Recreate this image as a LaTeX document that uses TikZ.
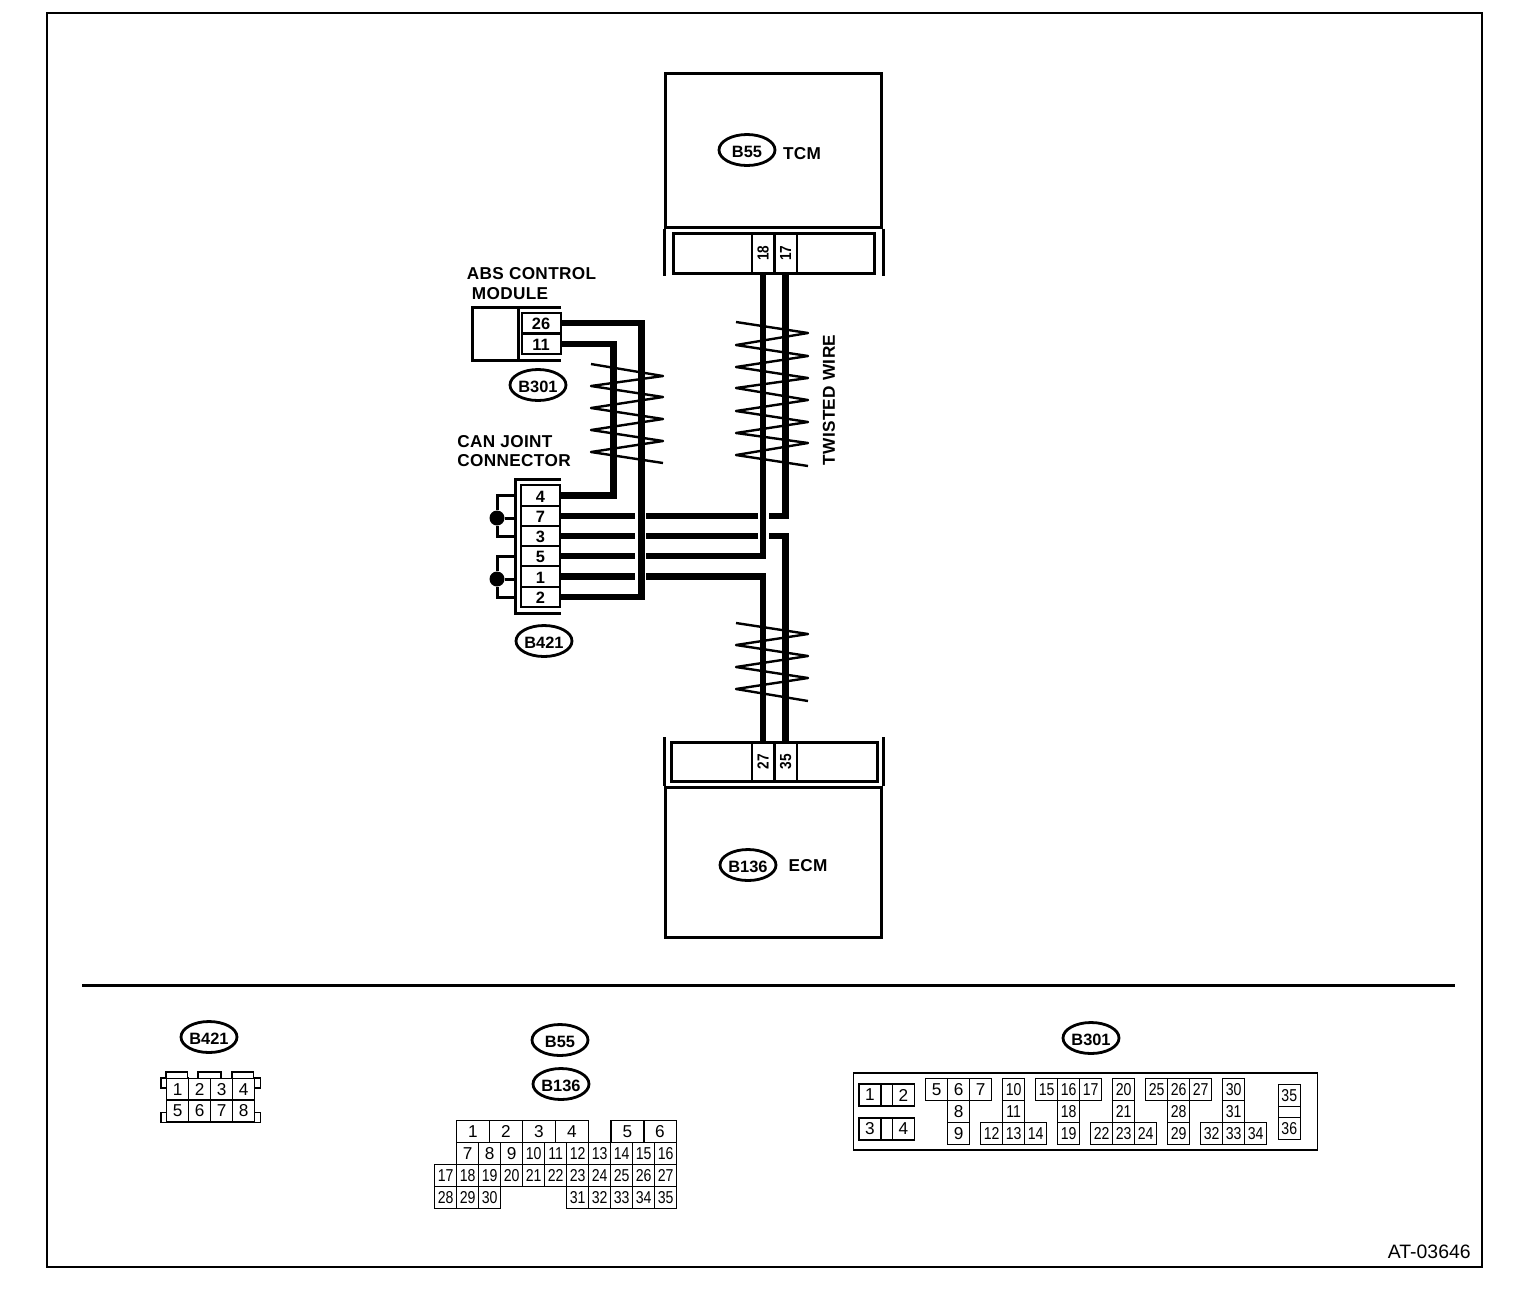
\documentclass[tikz,border=0pt]{standalone}
\usepackage{fontspec}
\setmainfont{Liberation Sans}
\newfontfamily\labelfont[LetterSpace=2.0]{Liberation Sans Bold}
\newfontfamily\pinfont[FakeStretch=0.82]{Liberation Sans}
\newfontfamily\slimfont[FakeStretch=0.85]{Liberation Sans Bold}
\usetikzlibrary{shapes.geometric}
\tikzset{
  wire/.style={line width=3.4pt},
  twist/.style={line width=1.2pt,line join=round},
  heavy/.style={line width=1.5pt},
  light/.style={line width=.7pt},
  tag/.style={font=\labelfont\fontsize{8.6pt}{10pt}\selectfont,inner sep=0pt},
  oval/.style={draw,ellipse,line width=1.4pt,inner sep=0pt,minimum width=28pt,minimum height=15.5pt,text height=7pt,text depth=0pt,font=\bfseries\fontsize{8.2pt}{10pt}\selectfont},
  pinbox/.style={draw,line width=1pt,inner sep=0pt,minimum width=19.5pt,minimum height=10.2pt,text height=6.6pt,text depth=0pt,font=\bfseries\fontsize{8.2pt}{10pt}\selectfont},
  upright/.style={draw,line width=1pt,inner sep=0pt,minimum width=20pt,minimum height=11pt,font=\slimfont\fontsize{8pt}{10pt}\selectfont},
  cell/.style={draw,line width=.65pt,inner sep=0pt,minimum width=11pt,minimum height=11pt,font=\pinfont\fontsize{8.6pt}{10pt}\selectfont},
  solo/.style={cell,font=\fontsize{8.6pt}{10pt}\selectfont},
  widecell/.style={solo,minimum width=16.5pt},
}
\begin{document}
\begin{tikzpicture}[x=.5pt,y=-.5pt]
\useasboundingbox (0,0) rectangle (1536,1292);
\fill[white] (0,0) rectangle (1536,1292);
\node[draw,line width=.8pt,inner sep=0pt,minimum width=717.5pt,minimum height=627pt] (frame) at (764.5,640) {};
\node[anchor=south east,inner sep=0pt,font=\fontsize{9.7pt}{10pt}\selectfont] (drawno) at (1471,1259) {AT-03646};
\draw[heavy] (82,985) -- (1455,985);

% TCM
\node[draw,heavy,inner sep=0pt,minimum width=108pt,minimum height=77pt] (tcm) at (773.5,150) {};
\draw[heavy] (tcm.south west) -- ++(0,47);
\draw[heavy] (tcm.south east) -- ++(0,47);
\node[draw,heavy,inner sep=0pt,minimum width=100.5pt,minimum height=20pt] (tcmplug) at (773.5,253) {};
\node[upright,rotate=90] (t18) at (763,253) {18};
\node[upright,rotate=90] (t17) at (785.5,253) {17};
\node[oval] (ovaltcm) at (747,150) {B55};
\node[tag] (nametcm) at (802,153.5) {TCM};

% ECM
\node[draw,heavy,inner sep=0pt,minimum width=108pt,minimum height=75pt] (ecm) at (773.5,862) {};
\draw[heavy] (ecm.north west) -- ++(0,-49);
\draw[heavy] (ecm.north east) -- ++(0,-49);
\node[draw,heavy,inner sep=0pt,minimum width=103pt,minimum height=19.5pt] (ecmplug) at (774,761.5) {};
\node[upright,rotate=90] (e27) at (763,761.5) {27};
\node[upright,rotate=90] (e35) at (785.5,761.5) {35};
\node[oval] (ovalecm) at (748,865) {B136};
\node[tag] (nameecm) at (808,866) {ECM};

% ABS module
\draw[heavy] (561,307) -- (472,307) -- (472,360) -- (561,360);
\draw[heavy] (518,307) -- (518,360);
\node[pinbox] (a26) at (541,323) {26};
\node[pinbox] (a11) at (541,344) {11};
\node[tag] (nameabs) at (531.5,274) {ABS CONTROL};
\node[tag] (nameabsb) at (510,294) {MODULE};
\node[oval] (ovalabs) at (538,385) {B301};

% joint connector
\draw[heavy] (561,479) -- (515,479) -- (515,613) -- (561,613);
\coordinate (shell) at (515,546);
\node[pinbox] (c4) at (540.5,495.5) {4};
\node[pinbox] (c7) at (540.5,516) {7};
\node[pinbox] (c3) at (540.5,536) {3};
\node[pinbox] (c5) at (540.5,556) {5};
\node[pinbox] (c1) at (540.5,576.5) {1};
\node[pinbox] (c2) at (540.5,597) {2};
\node[tag,anchor=west] (namecan) at (457,442) {CAN JOINT};
\node[tag,anchor=west] (namecanb) at (457,461) {CONNECTOR};
\node[oval] (ovalcan) at (544,641) {B421};
\node[circle,fill,inner sep=0pt,minimum size=7.5pt] (dotup) at (497,518) {};
\node[circle,fill,inner sep=0pt,minimum size=7.5pt] (dotlow) at (497,579) {};
\draw[heavy] (shell |- c4) -| (dotup) |- (shell |- c3);
\draw[heavy] (dotup) -- (shell |- dotup);
\draw[heavy] (shell |- c5) -| (dotlow) |- (shell |- c2);
\draw[heavy] (dotlow) -- (shell |- dotlow);

% wires
\draw[wire] (a26.east) -- ++(80,0) |- (c2.east);
\draw[wire] (a11.east) -- ++(52,0) |- (c4.east);
\draw[wire] (c7.east) -- ++(74,0) ++(11,0) -- ++(112,0) ++(11,0) -| (t17.west);
\draw[wire] (c3.east) -- ++(74,0) ++(11,0) -- ++(112,0) ++(11,0) -| (e35.east);
\draw[wire] (c5.east) -- ++(74,0) ++(11,0) -| (t18.west);
\draw[wire] (c1.east) -- ++(74,0) ++(11,0) -| (e27.east);

% twists
\draw[twist] (591,364) -- (663,376) -- (591,386) -- (663,397) -- (591,408) -- (663,419) -- (591,430) -- (663,441) -- (591,452) -- (663,463);
\draw[twist] (736,322) -- (808,333) -- (736,345) -- (808,356) -- (736,367) -- (808,378) -- (736,388) -- (808,400) -- (736,411) -- (808,422) -- (736,433) -- (808,443) -- (736,455) -- (808,466);
\draw[twist] (736,623) -- (808,634) -- (736,645) -- (808,656) -- (736,667) -- (808,678) -- (736,689) -- (808,701);
\node[tag,rotate=90] (nametwist) at (829,400) {TWISTED WIRE};

% B421 view
\node[oval] (ovalj) at (209,1037) {B421};
\foreach \n [count=\i] in {1,2,3,4} \node[solo] (j\n) at ({155.7+22*\i},1089.5) {\n};
\foreach \n [count=\i] in {5,6,7,8} \node[solo] (j\n) at ({155.7+22*\i},1111) {\n};
\draw[light] (j1.north west) |- ++(21.5,-6) |- (j1.north east);
\draw[light] (198,1078) |- (221,1072) -- (221,1078);
\draw[light] (j4.north west) |- ++(21.5,-6) |- (j4.north east);
\draw[light] (j1.north west) -- ++(-5,0) -- ++(0,10) -- ++(5,0);
\draw[light] (j5.south west) -- ++(-5,0) -- ++(0,-10) -- ++(5,0);
\draw[light] (j4.north east) -- ++(5,0) -- ++(0,10) -- ++(-5,0);
\draw[light] (j8.south east) -- ++(5,0) -- ++(0,-10) -- ++(-5,0);

% B55 and B136 view
\node[oval] (ovalt) at (560,1040) {B55};
\node[oval] (ovale) at (561,1084) {B136};
\foreach \n/\x in {1/473,2/506,3/539,4/572,5/627.5,6/660} \node[widecell] (m\n) at (\x,1131.7) {\n};
\foreach \n [count=\i] in {7,8,9} \node[solo] (m\n) at ({445.7+22*\i},1153.7) {\n};
\foreach \n [count=\i] in {10,...,16} \node[cell] (m\n) at ({511.7+22*\i},1153.7) {\n};
\foreach \n [count=\i] in {17,...,27} \node[cell] (m\n) at ({423.7+22*\i},1175.7) {\n};
\foreach \n [count=\i] in {28,29,30} \node[cell] (m\n) at ({423.7+22*\i},1197.7) {\n};
\foreach \n [count=\i] in {31,...,35} \node[cell] (m\n) at ({555.7+22*\i},1197.7) {\n};

% B301 view
\node[oval] (ovalb) at (1091,1038) {B301};
\node[draw,line width=.9pt,inner sep=0pt,minimum width=232pt,minimum height=38.5pt] (abspanel) at (1085.5,1111.7) {};
\foreach \n/\x/\y in {1/870/1095,2/903.5/1095,3/870/1129,4/903.5/1129} \node[solo] (b\n) at (\x,\y) {\n};
\node[cell,minimum width=5.5pt] (blanka) at (887,1095) {};
\node[cell,minimum width=5.5pt] (blankb) at (887,1129) {};
\foreach \n/\x/\y in {5/936.7/1089.7,6/958.7/1089.7,7/980.7/1089.7,8/958.7/1111.7,9/958.7/1133.7} \node[solo] (b\n) at (\x,\y) {\n};
\foreach \n/\x/\y in {10/1013.7/1089.7,11/1013.7/1111.7,12/991.7/1133.7,13/1013.7/1133.7,14/1035.7/1133.7,
  15/1046.7/1089.7,16/1068.7/1089.7,17/1090.7/1089.7,18/1068.7/1111.7,19/1068.7/1133.7,
  20/1123.7/1089.7,21/1123.7/1111.7,22/1101.7/1133.7,23/1123.7/1133.7,24/1145.7/1133.7,
  25/1156.7/1089.7,26/1178.7/1089.7,27/1200.7/1089.7,28/1178.7/1111.7,29/1178.7/1133.7,
  30/1233.7/1089.7,31/1233.7/1111.7,32/1211.7/1133.7,33/1233.7/1133.7,34/1255.7/1133.7,
  35/1289.3/1095.5,36/1289.3/1128.3} \node[cell] (b\n) at (\x,\y) {\n};
\node[cell,minimum height=5.5pt] (blankc) at (1289.3,1112) {};
\end{tikzpicture}
\end{document}
